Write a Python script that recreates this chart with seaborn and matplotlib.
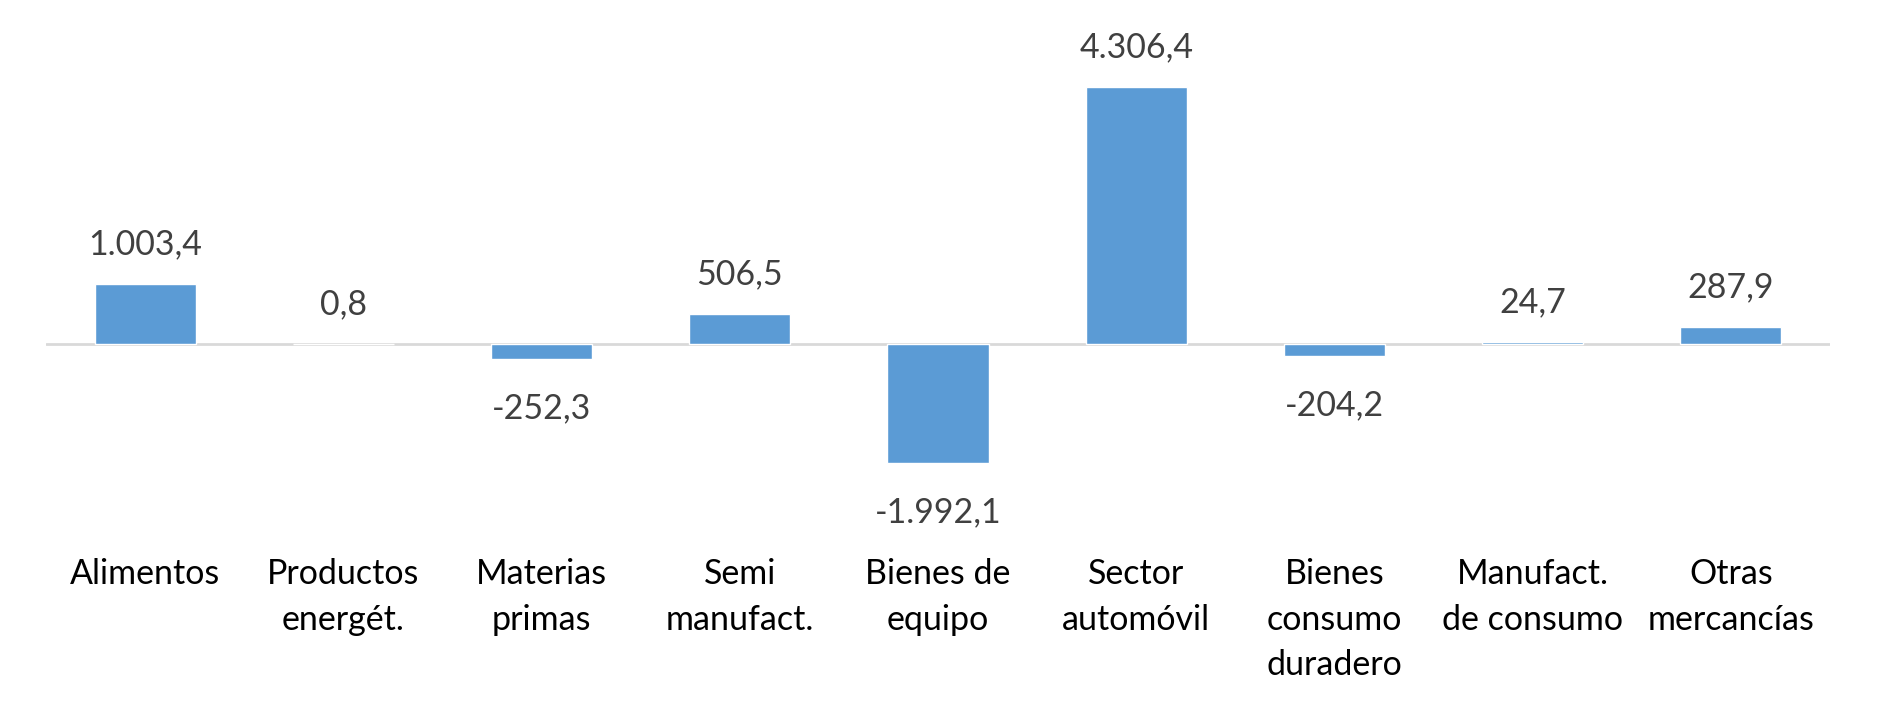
import matplotlib
matplotlib.use("Agg")
import matplotlib.pyplot as plt
import seaborn as sns
import pandas as pd

categories = ["Alimentos", "Productos\nenergét.", "Materias\nprimas", "Semi\nmanufact.",
              "Bienes de\nequipo", "Sector\nautomóvil", "Bienes\nconsumo\nduradero",
              "Manufact.\nde consumo", "Otras\nmercancías"]
values = [1003.4, 0.8, -252.3, 506.5, -1992.1, 4306.4, -204.2, 24.7, 287.9]

sns.set_theme(style="white")
plt.rcParams['font.family'] = ['Lato', 'DejaVu Sans']

df = pd.DataFrame({"cat": categories, "val": values})

fig = plt.figure(figsize=(19, 7.12), dpi=100)
ax = fig.add_axes([46/1900, 1-493/712, (1830-46)/1900, (493-45.5)/712])

sns.barplot(data=df, x="cat", y="val", color="#5B9BD5", saturation=1, width=0.51, ax=ax, zorder=2)
ax.axhline(0, color="#D9D9D9", lw=2, zorder=1)

ax.set_ylim(-2500, 5000)
ax.set_xlim(-0.5, len(categories) - 0.5)

def fmt(v):
    s = f"{abs(v):,.1f}".replace(",", "X").replace(".", ",").replace("X", ".")
    return ("-" if v < 0 else "") + s

pos_labels = [fmt(v) if v >= 0 else "" for v in values]
neg_labels = [fmt(v) if v < 0 else "" for v in values]
ax.bar_label(ax.containers[0], labels=pos_labels, padding=17,
             fontsize=24.5, color="#404040")
ax.bar_label(ax.containers[0], labels=neg_labels, padding=24,
             fontsize=24.5, color="#404040")

for s in ax.spines.values():
    s.set_visible(False)
ax.set_yticks([])
ax.set_xlabel("")
ax.set_ylabel("")
ax.tick_params(axis="x", length=0, pad=47, labelsize=24.5, labelcolor="black")
for t in ax.get_xticklabels():
    t.set_linespacing(1.52)

fig.savefig("out.png", dpi=100)
